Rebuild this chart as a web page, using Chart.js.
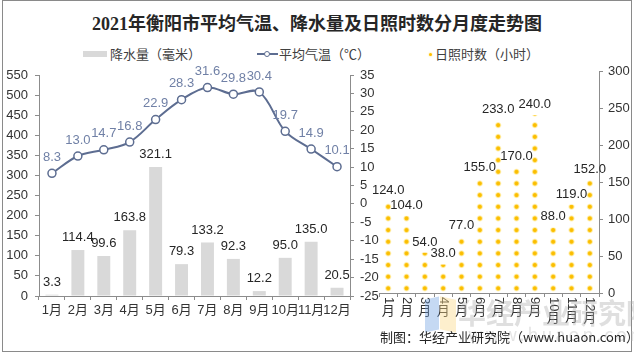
<!DOCTYPE html>
<html><head><meta charset="utf-8">
<script src="https://cdn.jsdelivr.net/npm/chart.js@4.4.0/dist/chart.umd.min.js"></script>
<style>
html,body{margin:0;padding:0;background:#fff;}
#wrap{position:relative;width:634px;height:354px;overflow:hidden;background:#fff;}
#frame{position:absolute;left:2px;top:0;width:628px;height:350px;border:1px solid #8a8a8a;}
.cv{position:absolute;left:0;top:0;}
.t{position:absolute;white-space:nowrap;color:#404040;font-family:'Noto Sans CJK SC',sans-serif;font-size:13px;line-height:16px;}
#title{left:0;width:634px;top:14px;text-align:center;font-family:'Liberation Serif','Noto Sans CJK SC',serif;font-weight:bold;font-size:18px;line-height:20px;color:#262626;}
.wm{position:absolute;white-space:nowrap;font-family:'Noto Sans CJK SC',sans-serif;}
</style></head><body>
<div id="wrap">
  <div id="frame"></div>
  <div id="title" class="t">2021年衡阳市平均气温、降水量及日照时数分月度走势图</div>
  <div style="position:absolute;left:83px;top:51px;width:24px;height:6px;background:#d9d9d9;"></div>
  <div class="t" style="left:110px;top:46px;">降水量（毫米）</div>
  <div style="position:absolute;left:257px;top:53px;width:21px;height:2px;background:#5d6d91;"></div>
  <div style="position:absolute;left:264px;top:51px;width:4px;height:4px;border:1.5px solid #5d6d91;border-radius:50%;background:#fff;"></div>
  <div class="t" style="left:279px;top:46px;">平均气温（℃）</div>
  <div style="position:absolute;left:429px;top:53px;width:3px;height:3px;border-radius:50%;background:#ffc000;box-shadow:0 0 2px #ffd84a;"></div>
  <div class="t" style="left:435px;top:46px;">日照时数（小时）</div>
  <canvas id="c2" class="cv" width="634" height="354"></canvas>
  <canvas id="c1" class="cv" width="634" height="354"></canvas>
  <div style="position:absolute;left:425px;top:298px;width:14px;height:33px;background:rgba(110,160,225,0.4);transform:skewY(-12deg);"></div>
  <div style="position:absolute;left:440px;top:298px;width:16px;height:33px;background:rgba(250,215,130,0.4);transform:skewY(12deg);"></div>
  <div class="wm" style="left:458px;top:292px;font-size:28px;font-weight:bold;color:rgba(170,170,170,0.38);">华经产业研究院</div>
  <div class="wm" style="left:468px;top:320px;font-size:18px;letter-spacing:3px;color:rgba(185,185,185,0.38);">www.huaon.com</div>
  <div class="t" style="left:380px;top:329px;color:#262626;">制图：华经产业研究院（www.huaon.com）</div>
</div>
<script>
// ---- data ----
const months = ['1月','2月','3月','4月','5月','6月','7月','8月','9月','10月','11月','12月'];
const rainfall = [3.3,114.4,99.6,163.8,321.1,79.3,133.2,92.3,12.2,95.0,135.0,20.5];
const avgTemp = [8.3,13.0,14.7,16.8,22.9,28.3,31.6,29.8,30.4,19.7,14.9,10.1];
const sunshine = [124,104,54,38,77,155,233,170,240,88,119,152];
const rainAxis = {min:0, max:550, step:50};
const tempAxis = {min:-25, max:35, step:5};
const sunAxis = {min:0, max:300, step:50};
const SUN_PER_SYMBOL = 15.75;

// ---- styles ----
const LINE = '#5d6d91', LINE_LABEL = '#7080a6', AX = '#8c8c8c', TXT = '#333333';
const NUMFONT = {family:"'Liberation Sans', Arial, sans-serif", size:13};
const CJKFONT = {family:"'Liberation Sans','Noto Sans CJK SC', sans-serif", size:13};

const valueLabels = {
  id:'valueLabels',
  afterDatasetsDraw(chart, args, opts){
    const ctx = chart.ctx;
    (opts.items||[]).forEach(it=>{
      const meta = chart.getDatasetMeta(it.index);
      const ds = chart.data.datasets[it.index];
      ctx.save();
      ctx.font = it.font; ctx.fillStyle = it.color;
      ctx.textAlign = 'center'; ctx.textBaseline = 'middle';
      meta.data.forEach((el,j)=>{
        ctx.fillText(Number(ds.data[j]).toFixed(1), el.x, el.y - it.dy);
      });
      ctx.restore();
    });
  }
};

// vertical (East-Asian style) category labels: digits rotated, CJK upright
const verticalLabels = {
  id:'verticalLabels',
  afterDraw(chart, args, opts){
    const xs = chart.scales.x, ctx = chart.ctx;
    ctx.save();
    ctx.fillStyle = opts.color; ctx.font = opts.font;
    chart.data.labels.forEach((lab,i)=>{
      const x = xs.getPixelForTick(i);
      const digits = lab.replace('月','');
      const y0 = xs.top + opts.offset;
      const w = ctx.measureText(digits).width;
      ctx.save();
      ctx.translate(x, y0); ctx.rotate(Math.PI/2);
      ctx.textAlign = 'left'; ctx.textBaseline = 'middle';
      ctx.fillText(digits, 0, 0);
      ctx.restore();
      ctx.textAlign = 'center'; ctx.textBaseline = 'middle';
      ctx.fillText('月', x, y0 + w + 7);
    });
    ctx.restore();
  }
};

function axisCommon(extra){
  return Object.assign({
    grid:{display:true, drawOnChartArea:false, drawTicks:true, tickLength:4, color:AX},
    border:{display:true, color:AX, width:1},
  }, extra);
}

new Chart(document.getElementById('c1'), {
  data:{
    labels:months,
    datasets:[
      {type:'line', label:'平均气温（℃）', data:avgTemp, yAxisID:'yT', borderColor:LINE, borderWidth:2,
       pointRadius:4, pointBackgroundColor:'#fff', pointBorderColor:LINE, pointBorderWidth:1.5,
       tension:0.35, order:1},
      {type:'bar', label:'降水量（毫米）', data:rainfall, yAxisID:'yR', backgroundColor:'#d9d9d9',
       barPercentage:0.5, categoryPercentage:1, order:2}
    ]
  },
  options:{
    responsive:false, animation:false, events:[],
    layout:{padding:{left:0, right:244, top:75, bottom:0}},
    plugins:{legend:{display:false}, tooltip:{enabled:false},
      valueLabels:{items:[
        {index:1, font:"13px 'Liberation Sans', Arial", color:'#262626', dy:12.5},
        {index:0, font:"13px 'Liberation Sans', Arial", color:LINE_LABEL, dy:16}
      ]}},
    scales:{
      x:axisCommon({ticks:{font:CJKFONT, color:TXT, padding:3, maxRotation:0, autoSkip:false},
         afterFit(s){s.height=58;}}),
      yR:axisCommon({position:'left', min:rainAxis.min, max:rainAxis.max,
         ticks:{stepSize:rainAxis.step, maxTicksLimit:30, autoSkip:false, font:NUMFONT, color:TXT, padding:7},
         afterFit(s){s.width=39;}}),
      yT:axisCommon({position:'right', min:tempAxis.min, max:tempAxis.max,
         ticks:{stepSize:tempAxis.step, maxTicksLimit:30, autoSkip:false, font:NUMFONT, color:TXT, padding:6},
         afterFit(s){s.width=40;}})
    }
  },
  plugins:[valueLabels]
});

function starFill(context){
  const chart = context.chart, area = chart.chartArea;
  if(!area || !chart.scales.x || !chart.scales.y) return 'rgba(0,0,0,0)';
  const xs = chart.scales.x, ys = chart.scales.y;
  const cw = xs.getPixelForValue(1) - xs.getPixelForValue(0);
  const sp = ys.getPixelForValue(0) - ys.getPixelForValue(SUN_PER_SYMBOL);
  const key = cw.toFixed(3)+'_'+sp.toFixed(3)+'_'+area.left;
  if(chart.$starKey !== key){
    const S = 4;
    const W = Math.round(cw*S), H = Math.round(sp*S);
    const tile = document.createElement('canvas');
    tile.width = W; tile.height = H;
    const t = tile.getContext('2d');
    const cx = W/2, cy = H*0.6;
    const R = 3.6*S;
    const g = t.createRadialGradient(cx,cy,0,cx,cy,R);
    g.addColorStop(0,'rgba(250,185,0,1)');
    g.addColorStop(0.45,'rgba(252,195,10,1)');
    g.addColorStop(0.7,'rgba(255,215,70,0.5)');
    g.addColorStop(1,'rgba(255,235,150,0)');
    t.fillStyle = g;
    t.beginPath(); t.arc(cx,cy,R,0,Math.PI*2); t.fill();
    const pat = chart.ctx.createPattern(tile,'repeat');
    pat.setTransform(new DOMMatrix()
      .translate(xs.getPixelForValue(0)-cw/2, ys.getPixelForValue(0))
      .scale(cw/W, sp/H));
    chart.$starKey = key; chart.$starPattern = pat;
  }
  return chart.$starPattern;
}

new Chart(document.getElementById('c2'), {
  type:'bar',
  data:{
    labels:months,
    datasets:[{label:'日照时数（小时）', data:sunshine, backgroundColor:starFill,
      barPercentage:1, categoryPercentage:1, borderWidth:0}]
  },
  options:{
    responsive:false, animation:false, events:[],
    layout:{padding:{left:379, right:0, top:71, bottom:0}},
    plugins:{legend:{display:false}, tooltip:{enabled:false},
      valueLabels:{items:[{index:0, font:"13px 'Liberation Sans', Arial", color:'#262626', dy:11}]},
      verticalLabels:{font:"13px 'Liberation Sans','Noto Sans CJK SC', sans-serif", color:TXT, offset:4}},
    scales:{
      x:axisCommon({ticks:{display:false}, afterFit(s){s.height=61;}}),
      y:axisCommon({position:'right', min:sunAxis.min, max:sunAxis.max,
         ticks:{stepSize:sunAxis.step, maxTicksLimit:30, font:NUMFONT, color:TXT, padding:5},
         afterFit(s){s.width=35;}})
    }
  },
  plugins:[valueLabels, verticalLabels]
});
</script>
</body></html>
